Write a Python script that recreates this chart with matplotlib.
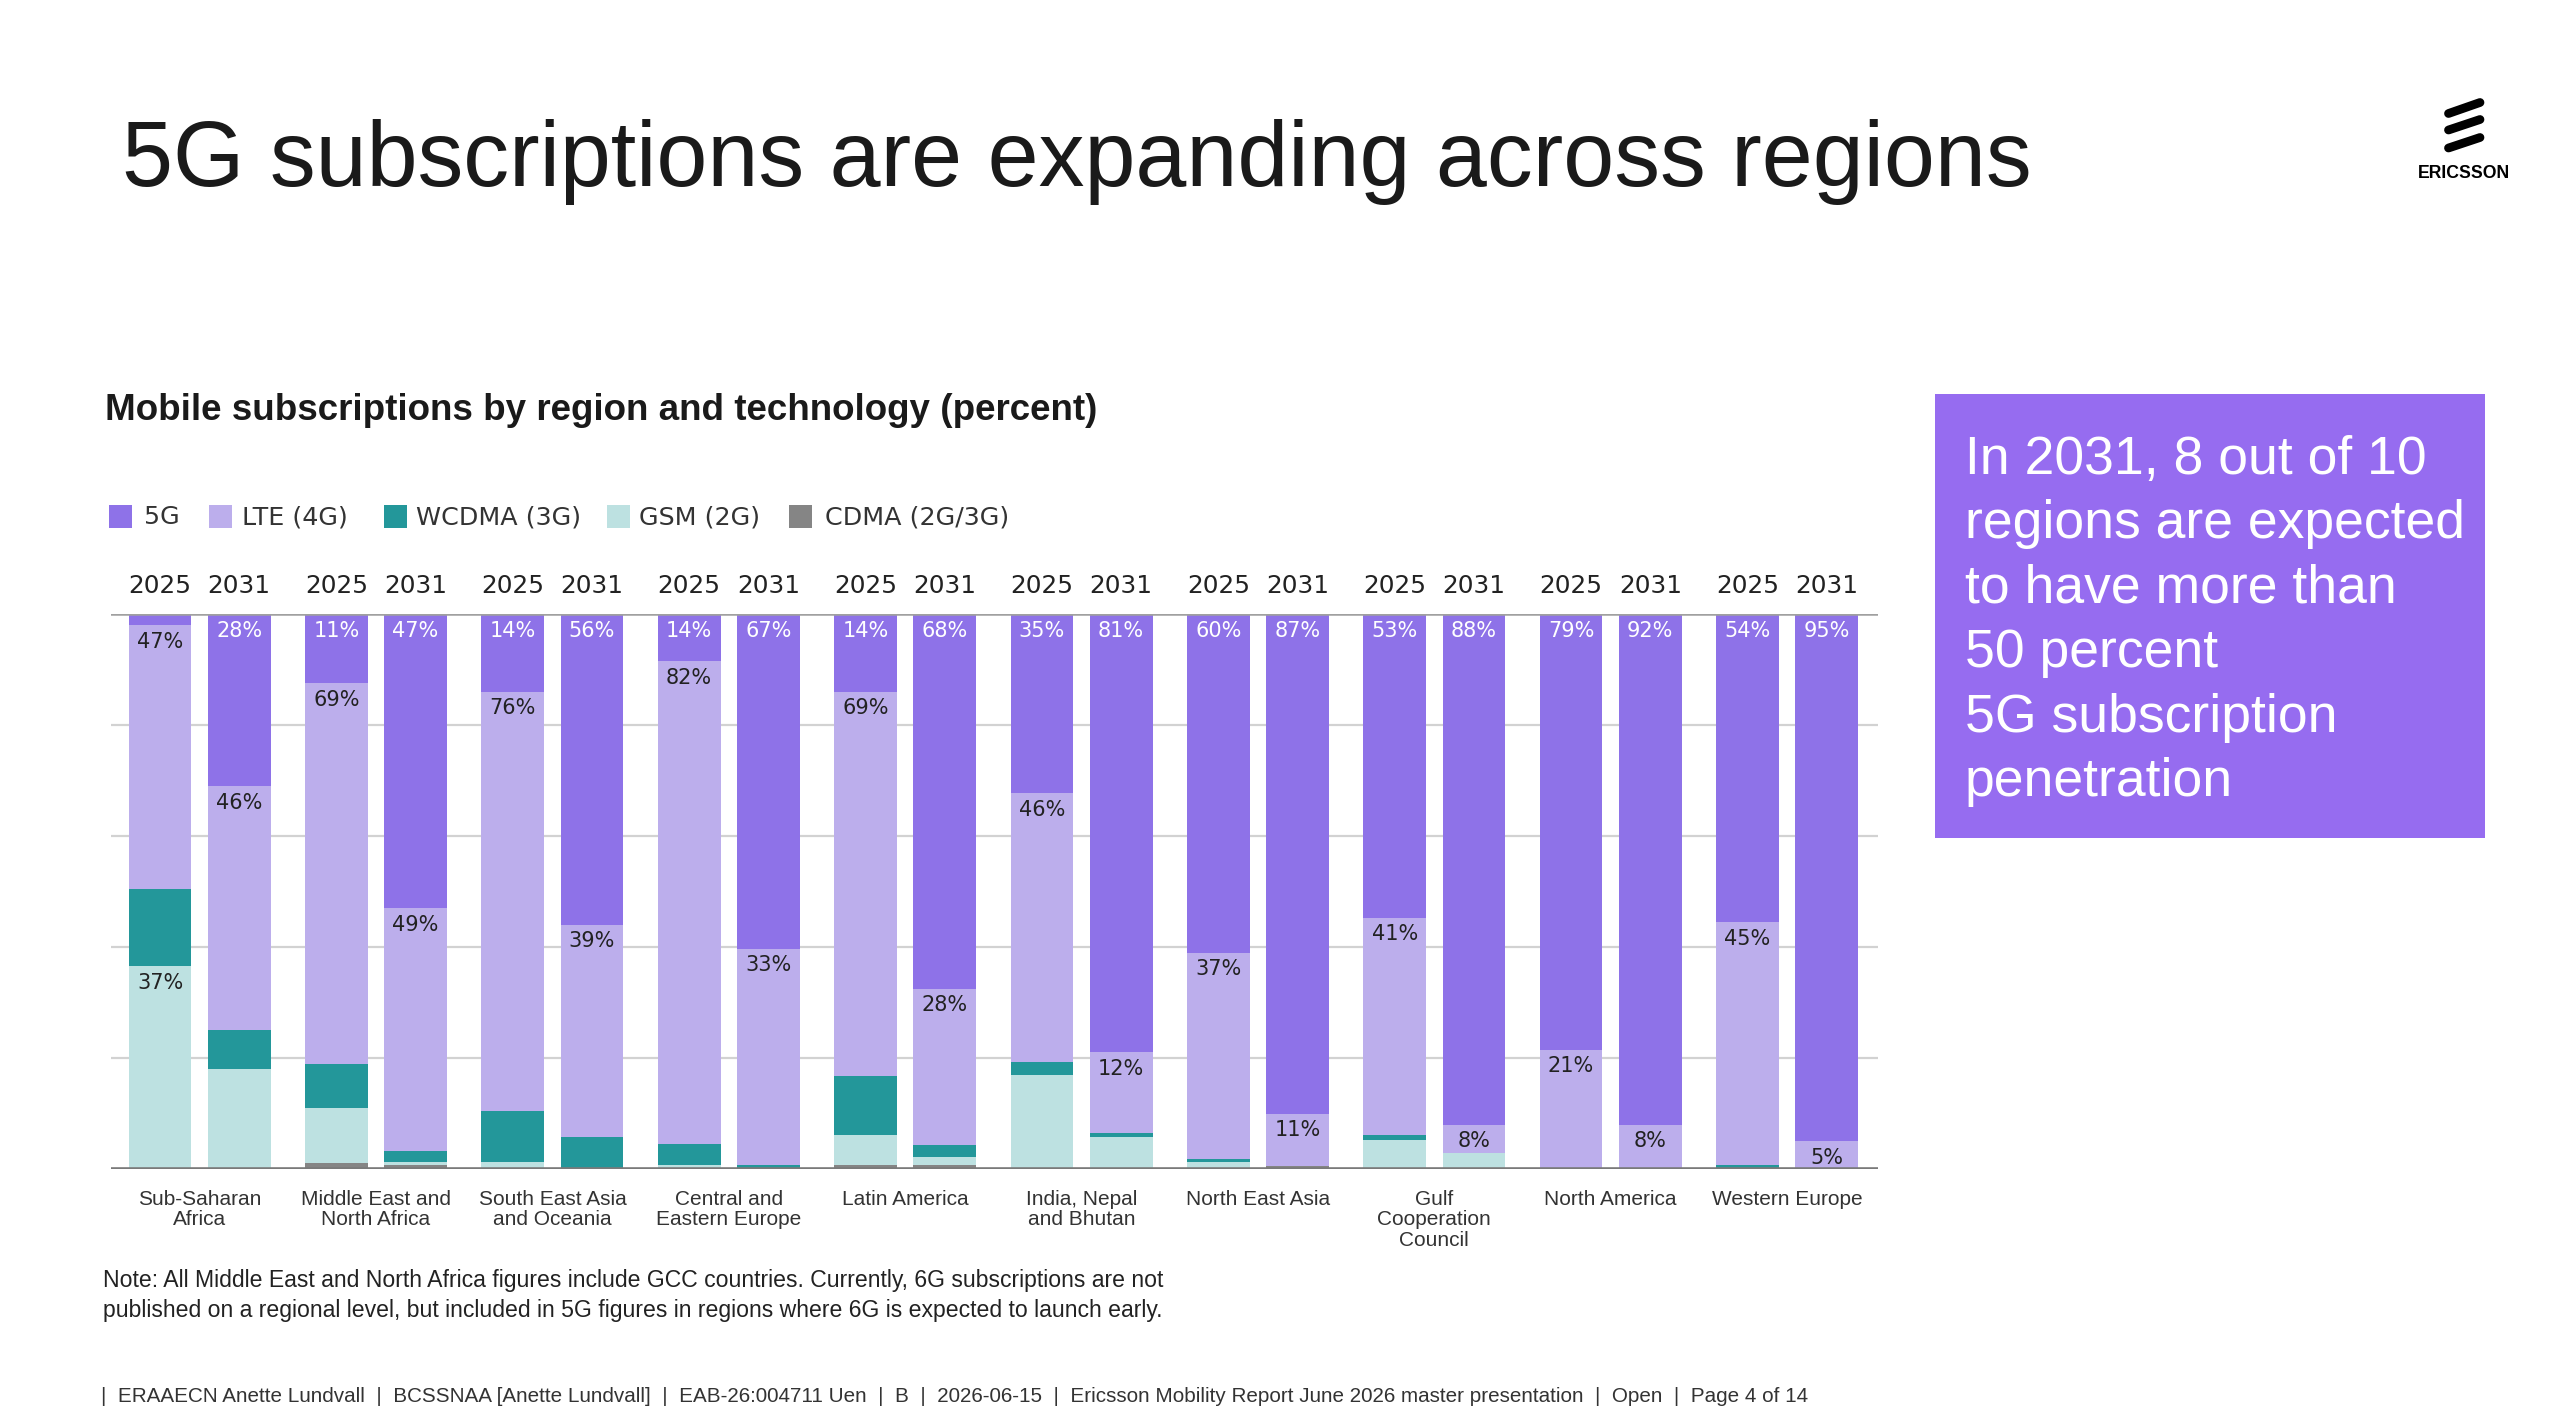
import matplotlib
matplotlib.use('Agg')
import matplotlib.pyplot as plt
from matplotlib import font_manager as fm
from matplotlib.patches import Rectangle
from matplotlib.lines import Line2D

regions = ['Sub-Saharan\nAfrica', 'Middle East and\nNorth Africa', 'South East Asia\nand Oceania',
           'Central and\nEastern Europe', 'Latin America', 'India, Nepal\nand Bhutan',
           'North East Asia', 'Gulf\nCooperation\nCouncil', 'North America', 'Western Europe']
years = ['2025', '2031']

# one value per bar: region by region, 2025 then 2031 (percent)
g5 = [2, 31, 12.5, 53, 14, 56, 8.5, 60.3, 14, 67.5, 32.3, 79, 61, 90, 54.7, 92, 78.5, 92, 55.5, 95]
lte = [47.5, 44, 68.5, 43.7, 75.5, 38.3, 87, 39, 69.2, 28.2, 48.5, 14.5, 37.2, 9.5, 39.1, 5.1, 21.5, 8, 43.8, 5]
wcdma = [14, 7, 8, 2.1, 9.2, 5.7, 3.8, 0.7, 10.7, 2.1, 2.2, 0.7, 0.5, 0, 0.9, 0, 0, 0, 0.7, 0]
gsm = [36.5, 18, 10, 0.5, 1.3, 0, 0.7, 0, 5.4, 1.5, 17, 5.8, 1.3, 0, 5.3, 2.9, 0, 0, 0, 0]
cdma = [0, 0, 1, 0.7, 0, 0, 0, 0, 0.7, 0.7, 0, 0, 0, 0.5, 0, 0, 0, 0, 0, 0]

# printed labels
lbl_5g = ['', '28%', '11%', '47%', '14%', '56%', '14%', '67%', '14%', '68%',
          '35%', '81%', '60%', '87%', '53%', '88%', '79%', '92%', '54%', '95%']
lbl_lte = ['47%', '46%', '69%', '49%', '76%', '39%', '82%', '33%', '69%', '28%',
           '46%', '12%', '37%', '11%', '41%', '8%', '21%', '8%', '45%', '5%']
lbl_gsm = ['37%'] + [''] * 19

tech = ['5G', 'LTE (4G)', 'WCDMA (3G)', 'GSM (2G)', 'CDMA (2G/3G)']
colors = ['#8e72e8', '#bcaeec', '#23979a', '#bde1e1', '#858585']

names = {f.name for f in fm.fontManager.ttflist}
NARROW = 'Liberation Sans Narrow' in names
SANS = 'Liberation Sans' if 'Liberation Sans' in names else 'DejaVu Sans'

W, H = 2560, 1424
fig = plt.figure(figsize=(W / 100, H / 100), dpi=100)
fig.patch.set_facecolor('white')

def fx(px):
    return px / W

def fy(py):
    return 1 - py / H

# title
if NARROW:
    fig.text(fx(122), fy(186), '5G subscriptions are expanding across regions',
             family='Liberation Sans Narrow', fontsize=79, color='#1a1a1a', va='baseline')
else:
    fig.text(fx(122), fy(186), '5G subscriptions are expanding across regions',
             family=SANS, fontsize=66, color='#1a1a1a', va='baseline')

# logo
for y0, y1 in [(113.5, 102.5), (130, 119.5), (148, 137.5)]:
    fig.add_artist(Line2D([fx(2448.5), fx(2480)], [fy(y0), fy(y1)], transform=fig.transFigure,
                          color='black', lw=6.3, solid_capstyle='round'))
fig.text(fx(2464), fy(174), 'ERICSSON', family=SANS, fontweight='bold', fontsize=12.7,
         ha='center', va='center', color='black')

# subtitle
fig.text(fx(105), fy(411), 'Mobile subscriptions by region and technology (percent)',
         family=SANS, fontweight='bold', fontsize=26.5, color='#1a1a1a', va='center')

# legend
leg_box = [109, 209, 384, 607, 789]
leg_txt = [144, 242, 416, 639, 825]
for bx, tx, name, c in zip(leg_box, leg_txt, tech, colors):
    fig.add_artist(Rectangle((fx(bx), fy(528)), 23 / W, 23 / H, transform=fig.transFigure,
                             facecolor=c, edgecolor='none'))
    fig.text(fx(tx), fy(517), name, fontsize=18.3, color='#333333', va='center')

# chart
ax = fig.add_axes([fx(111), fy(1169), (1878 - 111) / W, (1169 - 614) / H])
xs = [i + j * 0.449 for i in range(len(regions)) for j in range(2)]
bw = 0.356
series = [cdma, gsm, wcdma, lte, g5]
scol = [colors[4], colors[3], colors[2], colors[1], colors[0]]
bottom = [0.0] * len(xs)
for vals, c in zip(series, scol):
    ax.bar(xs, vals, bw, bottom=bottom, color=c, zorder=3, linewidth=0)
    bottom = [b + v for b, v in zip(bottom, vals)]

ax.set_xlim(-0.278, 9.74)
ax.set_ylim(0, 100)
for v in [20, 40, 60, 80]:
    ax.axhline(v, color='#d2d2d2', lw=1.6, zorder=1)
ax.axhline(100, color='#a0a0a0', lw=1.8, zorder=4)
ax.axhline(0, color='#7a7a7a', lw=2.6, zorder=4)
for s in ax.spines.values():
    s.set_visible(False)
ax.set_xticks([])
ax.set_yticks([])

for k, x in enumerate(xs):
    lte_top = 100 - g5[k]
    gsm_top = cdma[k] + gsm[k]
    if lbl_5g[k]:
        ax.text(x, 97, lbl_5g[k], ha='center', va='center', fontsize=15, color='white', zorder=5)
    ax.text(x, lte_top - 3, lbl_lte[k], ha='center', va='center', fontsize=15,
            color='#222222', zorder=5)
    if lbl_gsm[k]:
        ax.text(x, gsm_top - 3, lbl_gsm[k], ha='center', va='center', fontsize=15,
                color='#222222', zorder=5)
    ax.text(x, 105.1, years[k % 2], ha='center', va='center', fontsize=17.8,
            color='#222222', clip_on=False)

for i, r in enumerate(regions):
    ax.text(i + 0.2245, -3.7, r, ha='center', va='top', fontsize=15, family=SANS,
            color='#333333', linespacing=1.12, clip_on=False)

# note
fig.text(fx(103), fy(1281), 'Note: All Middle East and North Africa figures include GCC countries. '
         'Currently, 6G subscriptions are not', family=SANS, fontsize=16.6, color='#222222', va='center')
fig.text(fx(103), fy(1311), 'published on a regional level, but included in 5G figures in regions '
         'where 6G is expected to launch early.', family=SANS, fontsize=16.6, color='#222222', va='center')

# callout box
fig.add_artist(Rectangle((fx(1935), fy(838)), (2485 - 1935) / W, (838 - 394) / H,
                         transform=fig.transFigure, facecolor='#966cf0', edgecolor='none'))
box_lines = ['In 2031, 8 out of 10', 'regions are expected', 'to have more than',
             '50 percent', '5G subscription', 'penetration']
for n, line in enumerate(box_lines):
    fig.text(fx(1965), fy(460 + n * 64.4), line, family=SANS, fontsize=38.5,
             color='white', va='center')

# footer
fig.text(fx(101), fy(1397), '|  ERAAECN Anette Lundvall  |  BCSSNAA [Anette Lundvall]  |  '
         'EAB-26:004711 Uen  |  B  |  2026-06-15  |  Ericsson Mobility Report June 2026 master '
         'presentation  |  Open  |  Page 4 of 14', family=SANS, fontsize=14.9, color='#333333',
         va='center')

fig.savefig('out.png', dpi=100)
